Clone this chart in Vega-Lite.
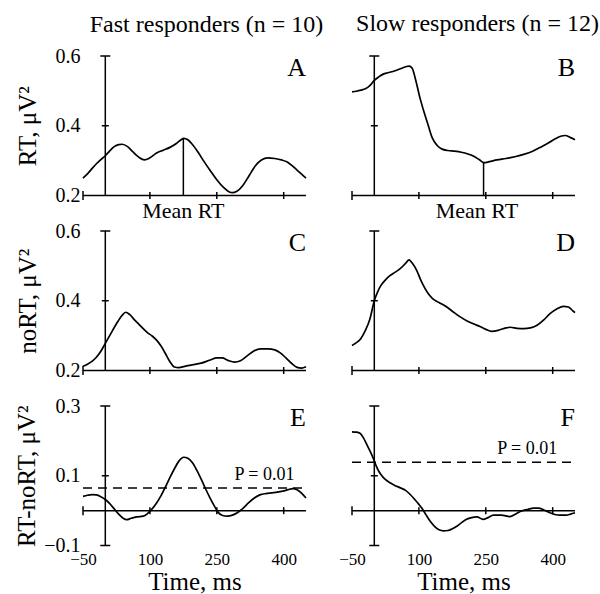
{
"$schema": "https://vega.github.io/schema/vega-lite/v6.json",
"padding": {"left": 14, "top": 12, "right": 0, "bottom": 0},
"bounds": "flush",
"columns": 2,
"spacing": {"row": 35, "column": 46},
"datasets": {
"A": [{"t":-50,"v":0.250},{"t":-40,"v":0.262},{"t":-30,"v":0.277},{"t":-20,"v":0.291},{"t":-10,"v":0.303},{"t":0,"v":0.314},{"t":10,"v":0.328},{"t":20,"v":0.340},{"t":30,"v":0.346},{"t":38,"v":0.347},{"t":50,"v":0.340},{"t":62,"v":0.325},{"t":75,"v":0.310},{"t":88,"v":0.302},{"t":100,"v":0.308},{"t":115,"v":0.322},{"t":130,"v":0.330},{"t":145,"v":0.338},{"t":160,"v":0.350},{"t":170,"v":0.360},{"t":176,"v":0.364},{"t":185,"v":0.360},{"t":195,"v":0.347},{"t":207,"v":0.326},{"t":220,"v":0.300},{"t":235,"v":0.272},{"t":250,"v":0.245},{"t":265,"v":0.223},{"t":277,"v":0.211},{"t":285,"v":0.208},{"t":295,"v":0.212},{"t":308,"v":0.228},{"t":322,"v":0.256},{"t":337,"v":0.286},{"t":350,"v":0.302},{"t":365,"v":0.308},{"t":380,"v":0.306},{"t":395,"v":0.302},{"t":408,"v":0.296},{"t":420,"v":0.284},{"t":435,"v":0.267},{"t":450,"v":0.250}],
"B": [{"t":-50,"v":0.497},{"t":-40,"v":0.499},{"t":-30,"v":0.502},{"t":-20,"v":0.506},{"t":-10,"v":0.515},{"t":0,"v":0.530},{"t":10,"v":0.540},{"t":20,"v":0.548},{"t":30,"v":0.552},{"t":45,"v":0.557},{"t":60,"v":0.564},{"t":72,"v":0.570},{"t":78,"v":0.571},{"t":85,"v":0.565},{"t":92,"v":0.535},{"t":103,"v":0.477},{"t":112,"v":0.437},{"t":120,"v":0.405},{"t":130,"v":0.365},{"t":140,"v":0.345},{"t":152,"v":0.333},{"t":165,"v":0.329},{"t":180,"v":0.327},{"t":195,"v":0.324},{"t":210,"v":0.319},{"t":222,"v":0.313},{"t":235,"v":0.303},{"t":246,"v":0.294},{"t":258,"v":0.297},{"t":275,"v":0.302},{"t":295,"v":0.306},{"t":315,"v":0.311},{"t":335,"v":0.318},{"t":355,"v":0.327},{"t":375,"v":0.340},{"t":392,"v":0.352},{"t":405,"v":0.362},{"t":418,"v":0.370},{"t":428,"v":0.372},{"t":440,"v":0.366},{"t":450,"v":0.360}],
"C": [{"t":-50,"v":0.212},{"t":-40,"v":0.218},{"t":-30,"v":0.226},{"t":-20,"v":0.238},{"t":-10,"v":0.255},{"t":0,"v":0.278},{"t":12,"v":0.305},{"t":25,"v":0.334},{"t":37,"v":0.357},{"t":46,"v":0.367},{"t":55,"v":0.360},{"t":65,"v":0.346},{"t":75,"v":0.333},{"t":85,"v":0.320},{"t":95,"v":0.308},{"t":105,"v":0.299},{"t":115,"v":0.287},{"t":125,"v":0.270},{"t":135,"v":0.248},{"t":145,"v":0.225},{"t":155,"v":0.210},{"t":165,"v":0.208},{"t":178,"v":0.212},{"t":195,"v":0.216},{"t":215,"v":0.221},{"t":235,"v":0.230},{"t":250,"v":0.236},{"t":262,"v":0.236},{"t":275,"v":0.229},{"t":290,"v":0.224},{"t":303,"v":0.228},{"t":318,"v":0.242},{"t":333,"v":0.256},{"t":348,"v":0.262},{"t":365,"v":0.262},{"t":380,"v":0.259},{"t":393,"v":0.250},{"t":405,"v":0.236},{"t":418,"v":0.220},{"t":430,"v":0.209},{"t":440,"v":0.207},{"t":450,"v":0.211}],
"D": [{"t":-50,"v":0.272},{"t":-40,"v":0.280},{"t":-30,"v":0.292},{"t":-20,"v":0.315},{"t":-10,"v":0.347},{"t":0,"v":0.400},{"t":8,"v":0.427},{"t":15,"v":0.444},{"t":25,"v":0.460},{"t":35,"v":0.472},{"t":47,"v":0.482},{"t":58,"v":0.492},{"t":70,"v":0.507},{"t":78,"v":0.517},{"t":85,"v":0.508},{"t":95,"v":0.487},{"t":103,"v":0.463},{"t":110,"v":0.444},{"t":120,"v":0.422},{"t":130,"v":0.407},{"t":145,"v":0.395},{"t":160,"v":0.384},{"t":175,"v":0.370},{"t":190,"v":0.356},{"t":207,"v":0.343},{"t":222,"v":0.334},{"t":237,"v":0.326},{"t":250,"v":0.318},{"t":263,"v":0.312},{"t":280,"v":0.316},{"t":295,"v":0.322},{"t":305,"v":0.324},{"t":320,"v":0.321},{"t":335,"v":0.320},{"t":350,"v":0.322},{"t":364,"v":0.329},{"t":380,"v":0.345},{"t":394,"v":0.363},{"t":410,"v":0.377},{"t":424,"v":0.384},{"t":435,"v":0.382},{"t":446,"v":0.370},{"t":450,"v":0.366}],
"E": [{"t":-50,"v":0.041},{"t":-40,"v":0.044},{"t":-30,"v":0.046},{"t":-20,"v":0.045},{"t":-10,"v":0.040},{"t":0,"v":0.032},{"t":10,"v":0.020},{"t":20,"v":0.005},{"t":30,"v":-0.010},{"t":40,"v":-0.022},{"t":48,"v":-0.026},{"t":58,"v":-0.022},{"t":70,"v":-0.018},{"t":85,"v":-0.016},{"t":95,"v":-0.008},{"t":103,"v":0.002},{"t":115,"v":0.022},{"t":125,"v":0.043},{"t":135,"v":0.068},{"t":145,"v":0.095},{"t":155,"v":0.120},{"t":165,"v":0.142},{"t":176,"v":0.153},{"t":185,"v":0.150},{"t":195,"v":0.138},{"t":205,"v":0.116},{"t":215,"v":0.090},{"t":225,"v":0.062},{"t":235,"v":0.036},{"t":245,"v":0.012},{"t":253,"v":-0.005},{"t":263,"v":-0.014},{"t":274,"v":-0.016},{"t":285,"v":-0.013},{"t":296,"v":-0.006},{"t":308,"v":0.006},{"t":321,"v":0.022},{"t":335,"v":0.037},{"t":348,"v":0.046},{"t":360,"v":0.049},{"t":373,"v":0.051},{"t":386,"v":0.053},{"t":398,"v":0.056},{"t":410,"v":0.060},{"t":420,"v":0.063},{"t":430,"v":0.060},{"t":440,"v":0.050},{"t":450,"v":0.036}],
"F": [{"t":-50,"v":0.226},{"t":-40,"v":0.225},{"t":-32,"v":0.222},{"t":-25,"v":0.210},{"t":-17,"v":0.190},{"t":-10,"v":0.172},{"t":-3,"v":0.152},{"t":3,"v":0.132},{"t":10,"v":0.113},{"t":17,"v":0.100},{"t":24,"v":0.090},{"t":35,"v":0.080},{"t":45,"v":0.073},{"t":57,"v":0.066},{"t":70,"v":0.058},{"t":80,"v":0.047},{"t":90,"v":0.033},{"t":100,"v":0.018},{"t":106,"v":0.008},{"t":115,"v":-0.010},{"t":125,"v":-0.030},{"t":135,"v":-0.045},{"t":145,"v":-0.055},{"t":155,"v":-0.058},{"t":165,"v":-0.057},{"t":175,"v":-0.052},{"t":185,"v":-0.045},{"t":195,"v":-0.035},{"t":207,"v":-0.025},{"t":218,"v":-0.020},{"t":230,"v":-0.018},{"t":244,"v":-0.025},{"t":255,"v":-0.020},{"t":267,"v":-0.013},{"t":285,"v":-0.013},{"t":304,"v":-0.017},{"t":318,"v":-0.009},{"t":330,"v":-0.001},{"t":345,"v":0.004},{"t":357,"v":0.007},{"t":368,"v":0.007},{"t":380,"v":0.002},{"t":394,"v":-0.006},{"t":405,"v":-0.011},{"t":416,"v":-0.013},{"t":430,"v":-0.013},{"t":440,"v":-0.010},{"t":450,"v":-0.006}]
},
"concat": [
{
"width": 223, "height": 139.5,
"title": {"text": "Fast responders (n = 10)", "font": "Liberation Serif", "fontSize": 24, "fontWeight": "normal", "color": "black", "anchor": "middle", "dx": 12, "baseline": "alphabetic", "offset": -10, "frame": "group"},
"layer": [
{"data": {"name": "A"}, "mark": {"type": "line", "color": "black", "strokeWidth": 1.7, "interpolate": "monotone"},
 "encoding": {"x": {"field": "t", "type": "quantitative", "scale": {"domain": [-50, 450], "nice": false, "zero": false}, "axis": null},
  "y": {"field": "v", "type": "quantitative", "scale": {"domain": [0.2, 0.6], "nice": false, "zero": false}, "axis": {"values": [0.2, 0.4, 0.6], "format": ".1f", "labelFontSize": 20, "labelPadding": 3, "title": "RT, μV²", "titleFontSize": 25, "titlePadding": 15}}}},
{"data": {"values": [{"t": 0, "lo": 0.2, "hi": 0.6}]}, "mark": {"type": "rule", "color": "black", "strokeWidth": 1.5}, "encoding": {"x": {"field": "t", "type": "quantitative", "axis": null}, "y": {"field": "lo", "type": "quantitative"}, "y2": {"field": "hi"}}},
{"data": {"values": [{"lo": -50, "hi": 450, "v": 0.2}]}, "mark": {"type": "rule", "color": "black", "strokeWidth": 1.5}, "encoding": {"x": {"field": "lo", "type": "quantitative", "axis": null}, "x2": {"field": "hi"}, "y": {"field": "v", "type": "quantitative"}}},
{"data": {"values": [{"t": 100, "v": 0.2}, {"t": 250, "v": 0.2}, {"t": 400, "v": 0.2}]}, "mark": {"type": "tick", "orient": "vertical", "color": "black", "size": 7, "thickness": 1.5, "opacity": 1}, "encoding": {"x": {"field": "t", "type": "quantitative", "axis": null}, "y": {"field": "v", "type": "quantitative"}}},
{"data": {"values": [{"t": -50, "v": 0.2}]}, "mark": {"type": "tick", "orient": "vertical", "color": "black", "size": 9, "thickness": 1.5, "opacity": 1}, "encoding": {"x": {"field": "t", "type": "quantitative", "axis": null}, "y": {"field": "v", "type": "quantitative"}}},
{"data": {"values": [{"t": 0, "v": 0.4}]}, "mark": {"type": "tick", "orient": "horizontal", "color": "black", "size": 7, "thickness": 1.5, "opacity": 1}, "encoding": {"x": {"field": "t", "type": "quantitative", "axis": null}, "y": {"field": "v", "type": "quantitative"}}},
{"data": {"values": [{"t": 0, "v": 0.6}]}, "mark": {"type": "tick", "orient": "horizontal", "color": "black", "size": 10, "thickness": 1.5, "opacity": 1}, "encoding": {"x": {"field": "t", "type": "quantitative", "axis": null}, "y": {"field": "v", "type": "quantitative"}}},
{"data": {"values": [{"t": 175, "lo": 0.2, "v": 0.364}]}, "mark": {"type": "rule", "color": "black", "strokeWidth": 1.5}, "encoding": {"x": {"field": "t", "type": "quantitative", "axis": null}, "y": {"field": "lo", "type": "quantitative"}, "y2": {"field": "v"}}},
{"data": {"values": [{"t": 175, "v": 0.2, "label": "Mean RT"}]}, "mark": {"type": "text", "font": "Liberation Serif", "fontSize": 22, "color": "black", "align": "center", "baseline": "alphabetic", "dy": 22}, "encoding": {"x": {"field": "t", "type": "quantitative", "axis": null}, "y": {"field": "v", "type": "quantitative"}, "text": {"field": "label"}}},
{"data": {"values": [{"t": 450, "v": 0.6, "label": "A"}]}, "mark": {"type": "text", "font": "Liberation Serif", "fontSize": 26, "color": "black", "align": "right", "baseline": "alphabetic", "dy": 20}, "encoding": {"x": {"field": "t", "type": "quantitative", "axis": null}, "y": {"field": "v", "type": "quantitative"}, "text": {"field": "label"}}}
]
},
{
"width": 223, "height": 139.5,
"title": {"text": "Slow responders (n = 12)", "font": "Liberation Serif", "fontSize": 24, "fontWeight": "normal", "color": "black", "anchor": "middle", "dx": 14, "baseline": "alphabetic", "offset": 0, "frame": "group"},
"layer": [
{"data": {"name": "B"}, "mark": {"type": "line", "color": "black", "strokeWidth": 1.7, "interpolate": "monotone"},
 "encoding": {"x": {"field": "t", "type": "quantitative", "scale": {"domain": [-50, 450], "nice": false, "zero": false}, "axis": null},
  "y": {"field": "v", "type": "quantitative", "scale": {"domain": [0.2, 0.6], "nice": false, "zero": false}, "axis": null}}},
{"data": {"values": [{"t": 0, "lo": 0.2, "hi": 0.6}]}, "mark": {"type": "rule", "color": "black", "strokeWidth": 1.5}, "encoding": {"x": {"field": "t", "type": "quantitative", "axis": null}, "y": {"field": "lo", "type": "quantitative", "axis": null}, "y2": {"field": "hi"}}},
{"data": {"values": [{"lo": -50, "hi": 450, "v": 0.2}]}, "mark": {"type": "rule", "color": "black", "strokeWidth": 1.5}, "encoding": {"x": {"field": "lo", "type": "quantitative", "axis": null}, "x2": {"field": "hi"}, "y": {"field": "v", "type": "quantitative", "axis": null}}},
{"data": {"values": [{"t": 100, "v": 0.2}, {"t": 250, "v": 0.2}, {"t": 400, "v": 0.2}]}, "mark": {"type": "tick", "orient": "vertical", "color": "black", "size": 7, "thickness": 1.5, "opacity": 1}, "encoding": {"x": {"field": "t", "type": "quantitative", "axis": null}, "y": {"field": "v", "type": "quantitative", "axis": null}}},
{"data": {"values": [{"t": -50, "v": 0.2}]}, "mark": {"type": "tick", "orient": "vertical", "color": "black", "size": 9, "thickness": 1.5, "opacity": 1}, "encoding": {"x": {"field": "t", "type": "quantitative", "axis": null}, "y": {"field": "v", "type": "quantitative", "axis": null}}},
{"data": {"values": [{"t": 0, "v": 0.4}]}, "mark": {"type": "tick", "orient": "horizontal", "color": "black", "size": 7, "thickness": 1.5, "opacity": 1}, "encoding": {"x": {"field": "t", "type": "quantitative", "axis": null}, "y": {"field": "v", "type": "quantitative", "axis": null}}},
{"data": {"values": [{"t": 0, "v": 0.6}]}, "mark": {"type": "tick", "orient": "horizontal", "color": "black", "size": 10, "thickness": 1.5, "opacity": 1}, "encoding": {"x": {"field": "t", "type": "quantitative", "axis": null}, "y": {"field": "v", "type": "quantitative", "axis": null}}},
{"data": {"values": [{"t": 245, "lo": 0.2, "v": 0.294}]}, "mark": {"type": "rule", "color": "black", "strokeWidth": 1.5}, "encoding": {"x": {"field": "t", "type": "quantitative", "axis": null}, "y": {"field": "lo", "type": "quantitative", "axis": null}, "y2": {"field": "v"}}},
{"data": {"values": [{"t": 230, "v": 0.2, "label": "Mean RT"}]}, "mark": {"type": "text", "font": "Liberation Serif", "fontSize": 22, "color": "black", "align": "center", "baseline": "alphabetic", "dy": 22}, "encoding": {"x": {"field": "t", "type": "quantitative", "axis": null}, "y": {"field": "v", "type": "quantitative", "axis": null}, "text": {"field": "label"}}},
{"data": {"values": [{"t": 450, "v": 0.6, "label": "B"}]}, "mark": {"type": "text", "font": "Liberation Serif", "fontSize": 26, "color": "black", "align": "right", "baseline": "alphabetic", "dy": 20}, "encoding": {"x": {"field": "t", "type": "quantitative", "axis": null}, "y": {"field": "v", "type": "quantitative", "axis": null}, "text": {"field": "label"}}}
]
},
{
"width": 223, "height": 139.5,
"layer": [
{"data": {"name": "C"}, "mark": {"type": "line", "color": "black", "strokeWidth": 1.7, "interpolate": "monotone"},
 "encoding": {"x": {"field": "t", "type": "quantitative", "scale": {"domain": [-50, 450], "nice": false, "zero": false}, "axis": null},
  "y": {"field": "v", "type": "quantitative", "scale": {"domain": [0.2, 0.6], "nice": false, "zero": false}, "axis": {"values": [0.2, 0.4, 0.6], "format": ".1f", "labelFontSize": 20, "labelPadding": 3, "title": "noRT, μV²", "titleFontSize": 25, "titlePadding": 15}}}},
{"data": {"values": [{"t": 0, "lo": 0.2, "hi": 0.6}]}, "mark": {"type": "rule", "color": "black", "strokeWidth": 1.5}, "encoding": {"x": {"field": "t", "type": "quantitative", "axis": null}, "y": {"field": "lo", "type": "quantitative"}, "y2": {"field": "hi"}}},
{"data": {"values": [{"lo": -50, "hi": 450, "v": 0.2}]}, "mark": {"type": "rule", "color": "black", "strokeWidth": 1.5}, "encoding": {"x": {"field": "lo", "type": "quantitative", "axis": null}, "x2": {"field": "hi"}, "y": {"field": "v", "type": "quantitative"}}},
{"data": {"values": [{"t": 100, "v": 0.2}, {"t": 250, "v": 0.2}, {"t": 400, "v": 0.2}]}, "mark": {"type": "tick", "orient": "vertical", "color": "black", "size": 7, "thickness": 1.5, "opacity": 1}, "encoding": {"x": {"field": "t", "type": "quantitative", "axis": null}, "y": {"field": "v", "type": "quantitative"}}},
{"data": {"values": [{"t": -50, "v": 0.2}]}, "mark": {"type": "tick", "orient": "vertical", "color": "black", "size": 9, "thickness": 1.5, "opacity": 1}, "encoding": {"x": {"field": "t", "type": "quantitative", "axis": null}, "y": {"field": "v", "type": "quantitative"}}},
{"data": {"values": [{"t": 0, "v": 0.4}]}, "mark": {"type": "tick", "orient": "horizontal", "color": "black", "size": 7, "thickness": 1.5, "opacity": 1}, "encoding": {"x": {"field": "t", "type": "quantitative", "axis": null}, "y": {"field": "v", "type": "quantitative"}}},
{"data": {"values": [{"t": 0, "v": 0.6}]}, "mark": {"type": "tick", "orient": "horizontal", "color": "black", "size": 10, "thickness": 1.5, "opacity": 1}, "encoding": {"x": {"field": "t", "type": "quantitative", "axis": null}, "y": {"field": "v", "type": "quantitative"}}},
{"data": {"values": [{"t": 450, "v": 0.6, "label": "C"}]}, "mark": {"type": "text", "font": "Liberation Serif", "fontSize": 26, "color": "black", "align": "right", "baseline": "alphabetic", "dy": 20}, "encoding": {"x": {"field": "t", "type": "quantitative", "axis": null}, "y": {"field": "v", "type": "quantitative"}, "text": {"field": "label"}}}
]
},
{
"width": 223, "height": 139.5,
"layer": [
{"data": {"name": "D"}, "mark": {"type": "line", "color": "black", "strokeWidth": 1.7, "interpolate": "monotone"},
 "encoding": {"x": {"field": "t", "type": "quantitative", "scale": {"domain": [-50, 450], "nice": false, "zero": false}, "axis": null},
  "y": {"field": "v", "type": "quantitative", "scale": {"domain": [0.2, 0.6], "nice": false, "zero": false}, "axis": null}}},
{"data": {"values": [{"t": 0, "lo": 0.2, "hi": 0.6}]}, "mark": {"type": "rule", "color": "black", "strokeWidth": 1.5}, "encoding": {"x": {"field": "t", "type": "quantitative", "axis": null}, "y": {"field": "lo", "type": "quantitative", "axis": null}, "y2": {"field": "hi"}}},
{"data": {"values": [{"lo": -50, "hi": 450, "v": 0.2}]}, "mark": {"type": "rule", "color": "black", "strokeWidth": 1.5}, "encoding": {"x": {"field": "lo", "type": "quantitative", "axis": null}, "x2": {"field": "hi"}, "y": {"field": "v", "type": "quantitative", "axis": null}}},
{"data": {"values": [{"t": 100, "v": 0.2}, {"t": 250, "v": 0.2}, {"t": 400, "v": 0.2}]}, "mark": {"type": "tick", "orient": "vertical", "color": "black", "size": 7, "thickness": 1.5, "opacity": 1}, "encoding": {"x": {"field": "t", "type": "quantitative", "axis": null}, "y": {"field": "v", "type": "quantitative", "axis": null}}},
{"data": {"values": [{"t": -50, "v": 0.2}]}, "mark": {"type": "tick", "orient": "vertical", "color": "black", "size": 9, "thickness": 1.5, "opacity": 1}, "encoding": {"x": {"field": "t", "type": "quantitative", "axis": null}, "y": {"field": "v", "type": "quantitative", "axis": null}}},
{"data": {"values": [{"t": 0, "v": 0.4}]}, "mark": {"type": "tick", "orient": "horizontal", "color": "black", "size": 7, "thickness": 1.5, "opacity": 1}, "encoding": {"x": {"field": "t", "type": "quantitative", "axis": null}, "y": {"field": "v", "type": "quantitative", "axis": null}}},
{"data": {"values": [{"t": 0, "v": 0.6}]}, "mark": {"type": "tick", "orient": "horizontal", "color": "black", "size": 10, "thickness": 1.5, "opacity": 1}, "encoding": {"x": {"field": "t", "type": "quantitative", "axis": null}, "y": {"field": "v", "type": "quantitative", "axis": null}}},
{"data": {"values": [{"t": 450, "v": 0.6, "label": "D"}]}, "mark": {"type": "text", "font": "Liberation Serif", "fontSize": 26, "color": "black", "align": "right", "baseline": "alphabetic", "dy": 20}, "encoding": {"x": {"field": "t", "type": "quantitative", "axis": null}, "y": {"field": "v", "type": "quantitative", "axis": null}, "text": {"field": "label"}}}
]
},
{
"width": 223, "height": 139.5,
"layer": [
{"data": {"name": "E"}, "mark": {"type": "line", "color": "black", "strokeWidth": 1.7, "interpolate": "monotone"},
 "encoding": {"x": {"field": "t", "type": "quantitative", "scale": {"domain": [-50, 450], "nice": false, "zero": false}, "axis": {"values": [-50, 100, 250, 400], "labelFontSize": 17, "labelPadding": 6, "title": "Time, ms", "titleFontSize": 25, "titlePadding": 2}},
  "y": {"field": "v", "type": "quantitative", "scale": {"domain": [-0.1, 0.3], "nice": false, "zero": false}, "axis": {"values": [-0.1, 0.1, 0.3], "format": ".1f", "labelFontSize": 20, "labelPadding": 3, "title": "RT-noRT, μV²", "titleFontSize": 25, "titlePadding": 4}}}},
{"data": {"values": [{"t": 0, "lo": -0.1, "hi": 0.3}]}, "mark": {"type": "rule", "color": "black", "strokeWidth": 1.5}, "encoding": {"x": {"field": "t", "type": "quantitative"}, "y": {"field": "lo", "type": "quantitative"}, "y2": {"field": "hi"}}},
{"data": {"values": [{"lo": -50, "hi": 450, "v": 0}]}, "mark": {"type": "rule", "color": "black", "strokeWidth": 1.5}, "encoding": {"x": {"field": "lo", "type": "quantitative"}, "x2": {"field": "hi"}, "y": {"field": "v", "type": "quantitative"}}},
{"data": {"values": [{"lo": -50, "hi": 450, "v": 0.065}]}, "mark": {"type": "rule", "color": "black", "strokeWidth": 1.5, "strokeDash": [9, 6]}, "encoding": {"x": {"field": "lo", "type": "quantitative"}, "x2": {"field": "hi"}, "y": {"field": "v", "type": "quantitative"}}},
{"data": {"values": [{"t": 100, "v": 0}, {"t": 250, "v": 0}, {"t": 400, "v": 0}]}, "mark": {"type": "tick", "orient": "vertical", "color": "black", "size": 7, "thickness": 1.5, "opacity": 1}, "encoding": {"x": {"field": "t", "type": "quantitative"}, "y": {"field": "v", "type": "quantitative"}}},
{"data": {"values": [{"t": -50, "v": 0}]}, "mark": {"type": "tick", "orient": "vertical", "color": "black", "size": 9, "thickness": 1.5, "opacity": 1}, "encoding": {"x": {"field": "t", "type": "quantitative"}, "y": {"field": "v", "type": "quantitative"}}},
{"data": {"values": [{"t": 0, "v": 0.1}]}, "mark": {"type": "tick", "orient": "horizontal", "color": "black", "size": 7, "thickness": 1.5, "opacity": 1}, "encoding": {"x": {"field": "t", "type": "quantitative"}, "y": {"field": "v", "type": "quantitative"}}},
{"data": {"values": [{"t": 0, "v": 0.3}, {"t": 0, "v": -0.1}]}, "mark": {"type": "tick", "orient": "horizontal", "color": "black", "size": 10, "thickness": 1.5, "opacity": 1}, "encoding": {"x": {"field": "t", "type": "quantitative"}, "y": {"field": "v", "type": "quantitative"}}},
{"data": {"values": [{"t": 357, "v": 0.065, "label": "P = 0.01"}]}, "mark": {"type": "text", "font": "Liberation Serif", "fontSize": 18, "color": "black", "align": "center", "baseline": "alphabetic", "dy": -8}, "encoding": {"x": {"field": "t", "type": "quantitative"}, "y": {"field": "v", "type": "quantitative"}, "text": {"field": "label"}}},
{"data": {"values": [{"t": 450, "v": 0.3, "label": "E"}]}, "mark": {"type": "text", "font": "Liberation Serif", "fontSize": 26, "color": "black", "align": "right", "baseline": "alphabetic", "dy": 20}, "encoding": {"x": {"field": "t", "type": "quantitative"}, "y": {"field": "v", "type": "quantitative"}, "text": {"field": "label"}}}
]
},
{
"width": 223, "height": 139.5,
"layer": [
{"data": {"name": "F"}, "mark": {"type": "line", "color": "black", "strokeWidth": 1.7, "interpolate": "monotone"},
 "encoding": {"x": {"field": "t", "type": "quantitative", "scale": {"domain": [-50, 450], "nice": false, "zero": false}, "axis": {"values": [-50, 100, 250, 400], "labelFontSize": 17, "labelPadding": 6, "title": "Time, ms", "titleFontSize": 25, "titlePadding": 2}},
  "y": {"field": "v", "type": "quantitative", "scale": {"domain": [-0.1, 0.3], "nice": false, "zero": false}, "axis": null}}},
{"data": {"values": [{"t": 0, "lo": -0.1, "hi": 0.3}]}, "mark": {"type": "rule", "color": "black", "strokeWidth": 1.5}, "encoding": {"x": {"field": "t", "type": "quantitative"}, "y": {"field": "lo", "type": "quantitative", "axis": null}, "y2": {"field": "hi"}}},
{"data": {"values": [{"lo": -50, "hi": 450, "v": 0}]}, "mark": {"type": "rule", "color": "black", "strokeWidth": 1.5}, "encoding": {"x": {"field": "lo", "type": "quantitative"}, "x2": {"field": "hi"}, "y": {"field": "v", "type": "quantitative", "axis": null}}},
{"data": {"values": [{"lo": -50, "hi": 450, "v": 0.139}]}, "mark": {"type": "rule", "color": "black", "strokeWidth": 1.5, "strokeDash": [9, 6]}, "encoding": {"x": {"field": "lo", "type": "quantitative"}, "x2": {"field": "hi"}, "y": {"field": "v", "type": "quantitative", "axis": null}}},
{"data": {"values": [{"t": 100, "v": 0}, {"t": 250, "v": 0}, {"t": 400, "v": 0}]}, "mark": {"type": "tick", "orient": "vertical", "color": "black", "size": 7, "thickness": 1.5, "opacity": 1}, "encoding": {"x": {"field": "t", "type": "quantitative"}, "y": {"field": "v", "type": "quantitative", "axis": null}}},
{"data": {"values": [{"t": -50, "v": 0}]}, "mark": {"type": "tick", "orient": "vertical", "color": "black", "size": 9, "thickness": 1.5, "opacity": 1}, "encoding": {"x": {"field": "t", "type": "quantitative"}, "y": {"field": "v", "type": "quantitative", "axis": null}}},
{"data": {"values": [{"t": 0, "v": 0.1}]}, "mark": {"type": "tick", "orient": "horizontal", "color": "black", "size": 7, "thickness": 1.5, "opacity": 1}, "encoding": {"x": {"field": "t", "type": "quantitative"}, "y": {"field": "v", "type": "quantitative", "axis": null}}},
{"data": {"values": [{"t": 0, "v": 0.3}, {"t": 0, "v": -0.1}]}, "mark": {"type": "tick", "orient": "horizontal", "color": "black", "size": 10, "thickness": 1.5, "opacity": 1}, "encoding": {"x": {"field": "t", "type": "quantitative"}, "y": {"field": "v", "type": "quantitative", "axis": null}}},
{"data": {"values": [{"t": 343, "v": 0.139, "label": "P = 0.01"}]}, "mark": {"type": "text", "font": "Liberation Serif", "fontSize": 18, "color": "black", "align": "center", "baseline": "alphabetic", "dy": -8}, "encoding": {"x": {"field": "t", "type": "quantitative"}, "y": {"field": "v", "type": "quantitative", "axis": null}, "text": {"field": "label"}}},
{"data": {"values": [{"t": 450, "v": 0.3, "label": "F"}]}, "mark": {"type": "text", "font": "Liberation Serif", "fontSize": 26, "color": "black", "align": "right", "baseline": "alphabetic", "dy": 20}, "encoding": {"x": {"field": "t", "type": "quantitative"}, "y": {"field": "v", "type": "quantitative", "axis": null}, "text": {"field": "label"}}}
]
}
],
"config": {
"view": {"stroke": null},
"font": "Liberation Serif",
"axis": {"labelFont": "Liberation Serif", "titleFont": "Liberation Serif", "labelColor": "black", "titleColor": "black", "titleFontWeight": "normal", "grid": false, "domain": false, "ticks": false, "tickSize": 0, "labelOverlap": false, "labelFlush": false, "labelBound": false}
}
}
